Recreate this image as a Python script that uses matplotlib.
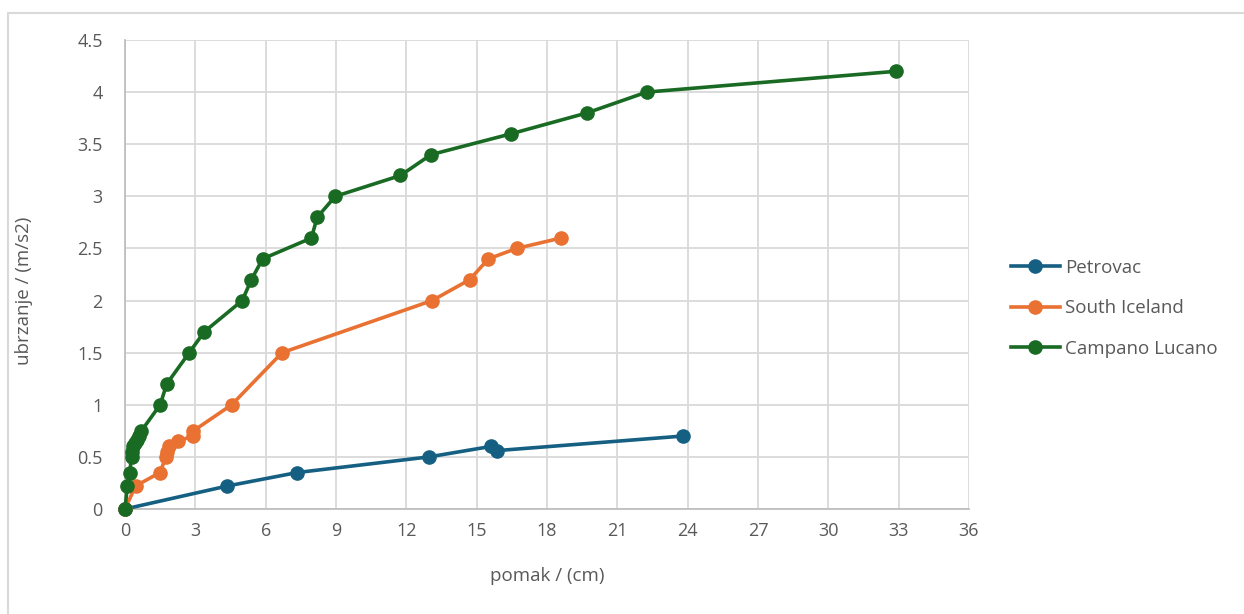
import matplotlib
matplotlib.use("Agg")
import matplotlib.pyplot as plt
from matplotlib.patches import Rectangle

plt.rcParams['font.family'] = ['Open Sans', 'DejaVu Sans']

petrovac_x = [0, 4.35, 7.35, 12.97, 15.6, 15.85, 23.8]
petrovac_y = [0, 0.22, 0.35, 0.5, 0.6, 0.56, 0.7]

iceland_x = [0, 0.45, 1.49, 1.75, 1.78, 1.88, 2.25, 2.9, 2.92, 4.55, 6.7, 13.1, 14.7, 15.5, 16.7, 18.6]
iceland_y = [0, 0.22, 0.35, 0.5, 0.55, 0.6, 0.65, 0.7, 0.75, 1.0, 1.5, 2.0, 2.2, 2.4, 2.5, 2.6]

campano_x = [0, 0.1, 0.2, 0.28, 0.3, 0.33, 0.42, 0.5, 0.6, 0.7, 1.5, 1.78, 2.74, 3.38, 5.0, 5.39,
             5.87, 7.95, 8.2, 8.97, 11.75, 13.05, 16.47, 19.7, 22.25, 32.9]
campano_y = [0, 0.22, 0.35, 0.5, 0.55, 0.6, 0.63, 0.66, 0.7, 0.75, 1.0, 1.2, 1.5, 1.7, 2.0, 2.2,
             2.4, 2.6, 2.8, 3.0, 3.2, 3.4, 3.6, 3.8, 4.0, 4.2]

series_names = ["Petrovac", "South Iceland", "Campano Lucano"]
colors = ["#156082", "#E97132", "#196B24"]

x_ticks = list(range(0, 37, 3))
y_ticks = [0, 0.5, 1, 1.5, 2, 2.5, 3, 3.5, 4, 4.5]
y_tick_labels = ["0", "0.5", "1", "1.5", "2", "2.5", "3", "3.5", "4", "4.5"]

W, H = 1244, 614
fig = plt.figure(figsize=(W / 100, H / 100), dpi=100)
ax = fig.add_axes([125 / W, 1 - 509 / H, (969 - 125) / W, (509 - 40) / H])

fig.patches.append(Rectangle((8 / W, -0.5), 2, 1.5 - 13 / H, transform=fig.transFigure,
                             fill=False, edgecolor="#d9d9d9", linewidth=1.5))

data = [(petrovac_x, petrovac_y), (iceland_x, iceland_y), (campano_x, campano_y)]
for (xs, ys), name, c in zip(data, series_names, colors):
    ax.plot(xs, ys, color=c, linewidth=2.6, marker="o", markersize=9.5,
            markerfacecolor=c, markeredgecolor=c, label=name, clip_on=False, zorder=3)

ax.set_xlim(0, 36)
ax.set_ylim(0, 4.5)
ax.set_xticks(x_ticks)
ax.set_yticks(y_ticks)
ax.set_yticklabels(y_tick_labels)
ax.grid(True, color="#d9d9d9", linewidth=1.3, zorder=0)
ax.set_axisbelow(True)
for s in ["top", "right"]:
    ax.spines[s].set_visible(False)
for s in ["left", "bottom"]:
    ax.spines[s].set_color("#bfbfbf")
    ax.spines[s].set_linewidth(1.3)
ax.tick_params(axis="both", length=0, labelsize=13, labelcolor="#595959")
ax.tick_params(axis="y", pad=16)
ax.tick_params(axis="x", pad=9)

ax.set_xlabel("pomak / (cm)", fontsize=13.5, color="#595959", labelpad=20)
ax.set_ylabel("ubrzanje / (m/s2)", fontsize=13.5, color="#595959", labelpad=32, y=0.465)

leg = fig.legend(loc="upper left", bbox_to_anchor=(994 / W, 1 - 242 / H), frameon=False,
                 fontsize=13.5, labelcolor="#595959", handlelength=2.6, handletextpad=0.3,
                 labelspacing=1.2)

fig.savefig("out.png", dpi=100, facecolor="white")
